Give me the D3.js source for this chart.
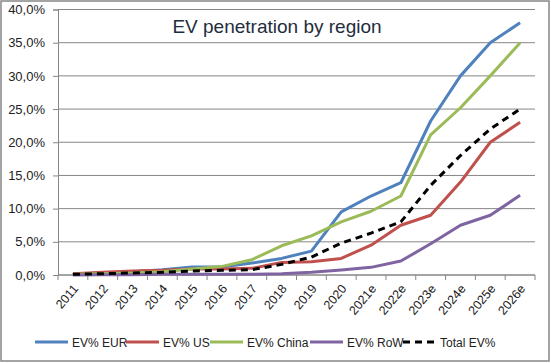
<!DOCTYPE html>
<html>
<head>
<meta charset="utf-8">
<script src="https://cdn.jsdelivr.net/npm/d3@7"></script>
<style>
body { margin: 0; background: #fff; }
text { font-family: "Liberation Sans", Arial, sans-serif; }
</style>
</head>
<body>
<div id="chart"></div>
<script>
var years = ["2011", "2012", "2013", "2014", "2015", "2016", "2017", "2018", "2019", "2020",
    "2021e", "2022e", "2023e", "2024e", "2025e", "2026e"];

var evEur = [0.1, 0.3, 0.5, 0.8, 1.2, 1.2, 1.8, 2.5, 3.6, 9.5, 11.9, 13.9, 23.2, 30, 35, 38];
var evUs = [0.2, 0.4, 0.6, 0.7, 0.9, 0.9, 1.0, 1.9, 2.0, 2.5, 4.5, 7.5, 9.0, 14, 20, 23];
var evChina = [0.1, 0.2, 0.3, 0.5, 0.9, 1.3, 2.3, 4.4, 5.9, 8.0, 9.6, 11.9, 21.1, 25.2, 30, 35];
var evRow = [0.0, 0.05, 0.05, 0.1, 0.1, 0.1, 0.1, 0.2, 0.4, 0.75, 1.15, 2.1, 4.7, 7.5, 9.0, 12];
var evTotal = [0.1, 0.2, 0.3, 0.4, 0.6, 0.7, 0.8, 1.6, 2.7, 4.8, 6.3, 8.0, 13.5, 18, 22, 25];

var yTicks = [0, 5, 10, 15, 20, 25, 30, 35, 40];

var series = [
    { name: "EV% EUR", values: evEur, color: "#4F81BD", dash: null },
    { name: "EV% US", values: evUs, color: "#C0504D", dash: null },
    { name: "EV% China", values: evChina, color: "#9BBB59", dash: null },
    { name: "EV% RoW", values: evRow, color: "#8064A2", dash: null },
    { name: "Total EV%", values: evTotal, color: "#000000", dash: "7,5" }
];

var svgWidth = 551;
var svgHeight = 363;

var margin = { top: 9.5, right: 16, bottom: 88, left: 58 };
var width = svgWidth - margin.left - margin.right;
var height = svgHeight - margin.top - margin.bottom;

var svg = d3.select("#chart")
    .append("svg")
    .attr("width", svgWidth)
    .attr("height", svgHeight);

// outer frame
svg.append("rect")
    .attr("x", 1)
    .attr("y", 1)
    .attr("width", svgWidth - 3)
    .attr("height", svgHeight - 3)
    .attr("fill", "none")
    .attr("stroke", "#878787")
    .attr("stroke-width", 1.5);

var chartGroup = svg.append("g")
    .attr("transform", `translate(${margin.left}, ${margin.top})`);

var xScale = d3.scaleBand()
    .domain(years)
    .range([0, width]);

var yScale = d3.scaleLinear()
    .domain([0, 40])
    .range([height, 0]);

// gridlines
chartGroup.selectAll(".grid")
    .data(yTicks)
    .enter()
    .append("line")
    .attr("x1", 0)
    .attr("x2", width)
    .attr("y1", d => yScale(d))
    .attr("y2", d => yScale(d))
    .attr("stroke", "#868686")
    .attr("stroke-width", 1);

// y axis
var leftAxis = d3.axisLeft(yScale)
    .tickValues(yTicks)
    .tickSize(5)
    .tickPadding(8)
    .tickFormat(d => d.toFixed(1).replace(".", ",") + "%");

var yAxis = chartGroup.append("g").call(leftAxis);
yAxis.select(".domain").attr("stroke", "#868686");
yAxis.selectAll(".tick line").attr("stroke", "#868686");
yAxis.selectAll("text")
    .attr("font-size", "13px")
    .attr("fill", "#222")
    .attr("font-family", "Liberation Sans, Arial, sans-serif");

// x axis with ticks at category boundaries
var xAxisGroup = chartGroup.append("g")
    .attr("transform", `translate(0, ${height})`);

xAxisGroup.append("line")
    .attr("x1", 0)
    .attr("x2", width)
    .attr("stroke", "#868686");

xAxisGroup.selectAll(".xtick")
    .data(years.concat(["end"]))
    .enter()
    .append("line")
    .attr("x1", (d, i) => i * xScale.step())
    .attr("x2", (d, i) => i * xScale.step())
    .attr("y1", 0)
    .attr("y2", 5)
    .attr("stroke", "#868686");

xAxisGroup.selectAll(".xlabel")
    .data(years)
    .enter()
    .append("text")
    .attr("transform", d => `translate(${xScale(d) + xScale.bandwidth() / 2 + 6}, 14) rotate(-50)`)
    .attr("text-anchor", "end")
    .attr("font-size", "12.5px")
    .attr("fill", "#222")
    .text(d => d);

// lines
var line = d3.line()
    .x((d, i) => xScale(years[i]) + xScale.bandwidth() / 2)
    .y(d => yScale(d));

chartGroup.selectAll(".series")
    .data(series)
    .enter()
    .append("path")
    .attr("d", d => line(d.values))
    .attr("fill", "none")
    .attr("stroke", d => d.color)
    .attr("stroke-width", 3)
    .attr("stroke-linejoin", "round")
    .attr("stroke-dasharray", d => d.dash);

// title
svg.append("text")
    .attr("x", 277)
    .attr("y", 33)
    .attr("text-anchor", "middle")
    .attr("font-size", "19px")
    .attr("fill", "#1F2D3D")
    .text("EV penetration by region");

// legend
var legendX = [35, 126, 210, 310, 403];
var legend = svg.selectAll(".legend")
    .data(series)
    .enter()
    .append("g")
    .attr("transform", (d, i) => `translate(${legendX[i]}, 342)`);

legend.append("line")
    .attr("x1", 0)
    .attr("x2", 33)
    .attr("stroke", d => d.color)
    .attr("stroke-width", 3)
    .attr("stroke-dasharray", d => d.dash);

legend.append("text")
    .attr("x", 37)
    .attr("y", 4.5)
    .attr("font-size", "12px")
    .attr("fill", "#222")
    .text(d => d.name);
</script>
</body>
</html>
